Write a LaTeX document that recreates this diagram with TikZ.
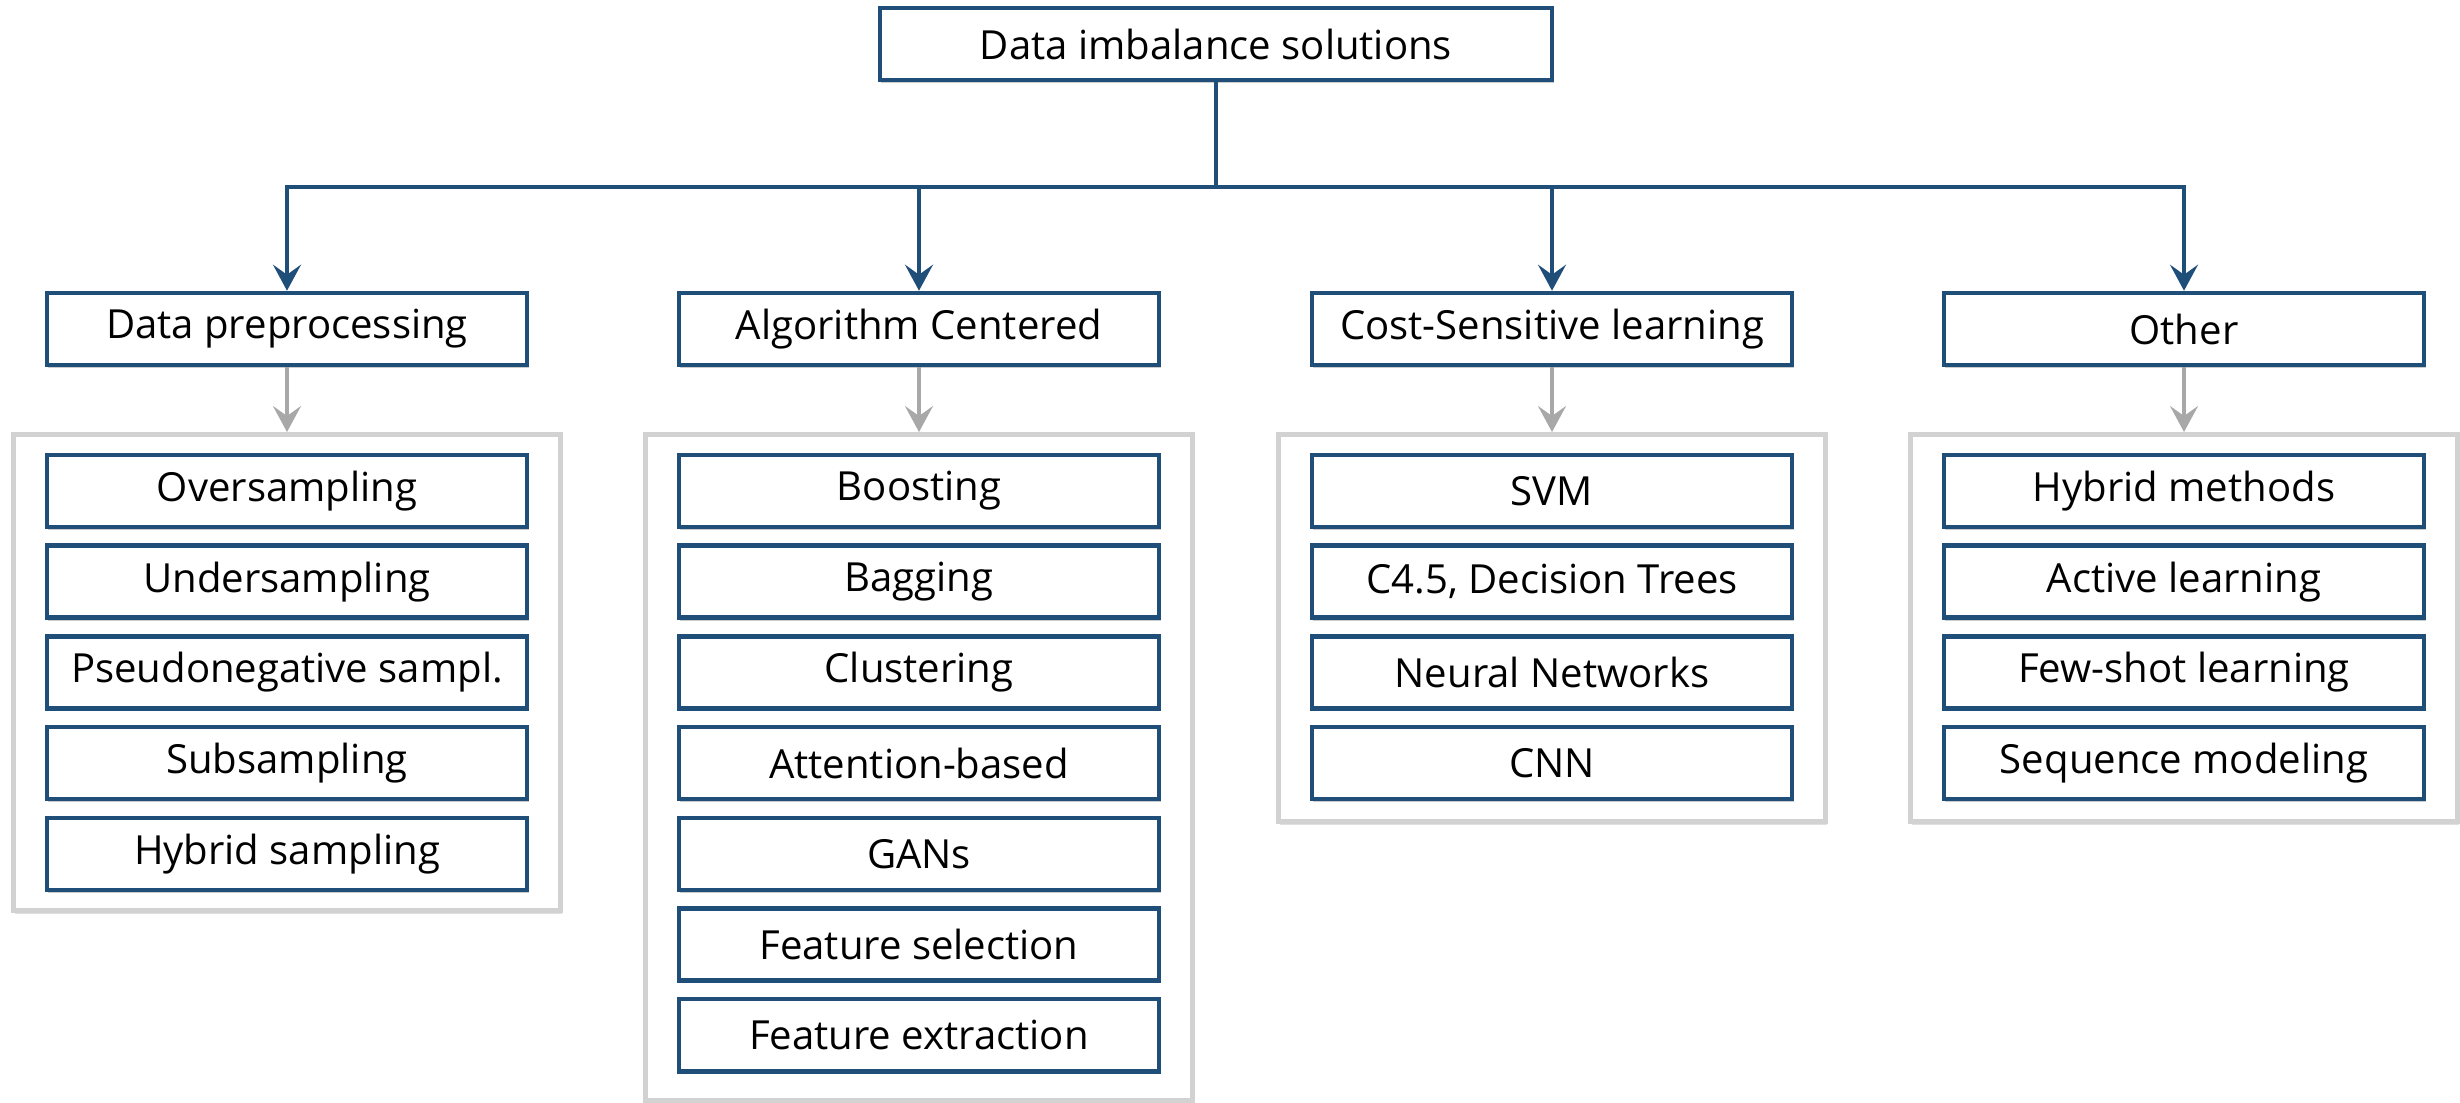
\documentclass[tikz,border=0pt]{standalone}
\usepackage{fontspec}
\setmainfont{Open Sans}
\usepackage{tikz}
\usetikzlibrary{arrows.meta,shadows,positioning}
\definecolor{boxblue}{RGB}{31,78,121}
\definecolor{grpgray}{RGB}{210,210,210}
\definecolor{arrgray}{RGB}{168,168,168}
\tikzset{
  catbox/.style={draw=boxblue, line width=1.3pt, fill=white,
    minimum width=4.8cm, minimum height=0.72cm, inner sep=0pt,
    font=\fontsize{11.4}{13.5}\selectfont,
    drop shadow={shadow xshift=0.4pt, shadow yshift=-0.8pt, opacity=0.2, fill=black}},
  itembox/.style={catbox},
  grpbox/.style={draw=grpgray, line width=1.4pt, fill=white,
    minimum width=5.46cm, inner sep=0pt, anchor=north,
    drop shadow={shadow xshift=0.4pt, shadow yshift=-0.8pt, opacity=0.12, fill=black}},
  bluearr/.style={draw=boxblue, line width=0.9pt,
    -{Stealth[length=0.26cm, width=0.28cm, inset=0.1cm]}},
  grayarr/.style={draw=arrgray, line width=0.9pt,
    -{Stealth[length=0.26cm, width=0.28cm, inset=0.1cm]}}
}
\begin{document}
\begin{tikzpicture}[x=0.01cm, y=-0.01cm]
  \useasboundingbox (0,0) rectangle (2460,1102);

  % Root and branching point
  \node[catbox, minimum width=6.72cm] (root) at (1216,44) {Data imbalance solutions};
  \coordinate (hub) at (1216,187);

  % Categories
  \node[catbox] (prep) at (287,329) {Data preprocessing};
  \node[catbox] (algo) at (919,329) {Algorithm Centered};
  \node[catbox] (cost) at (1552,329) {Cost-Sensitive learning};
  \node[catbox] (other) at (2184,329) {Other};

  % Group frames
  \node[grpbox, minimum height=4.76cm] (prep-grp) at (287,432) {};
  \node[grpbox, minimum height=6.66cm] (algo-grp) at (919,432) {};
  \node[grpbox, minimum height=3.87cm] (cost-grp) at (1552,432) {};
  \node[grpbox, minimum height=3.87cm] (other-grp) at (2184,432) {};

  % Methods in each group
  \foreach \txt [count=\i] in {Oversampling, Undersampling, Pseudonegative sampl.,
      Subsampling, Hybrid sampling}
    \node[itembox] (prep\i) at (287,{491+(\i-1)*90.7}) {\txt};
  \foreach \txt [count=\i] in {Boosting, Bagging, Clustering, Attention-based,
      GANs, Feature selection, Feature extraction}
    \node[itembox] (algo\i) at (919,{491+(\i-1)*90.7}) {\txt};
  \foreach \txt [count=\i] in {SVM, {C4.5, Decision Trees}, Neural Networks, CNN}
    \node[itembox] (cost\i) at (1552,{491+(\i-1)*90.7}) {\txt};
  \foreach \txt [count=\i] in {Hybrid methods, Active learning, Few-shot learning,
      Sequence modeling}
    \node[itembox] (other\i) at (2184,{491+(\i-1)*90.7}) {\txt};

  % Connectors
  \draw[boxblue, line width=0.9pt] (root) -- (hub);
  \foreach \c in {prep,algo,cost,other}
    \draw[bluearr] (hub) -| (\c);
  \foreach \c in {prep,algo,cost,other}
    \draw[grayarr] (\c) -- (\c-grp);
\end{tikzpicture}
\end{document}
